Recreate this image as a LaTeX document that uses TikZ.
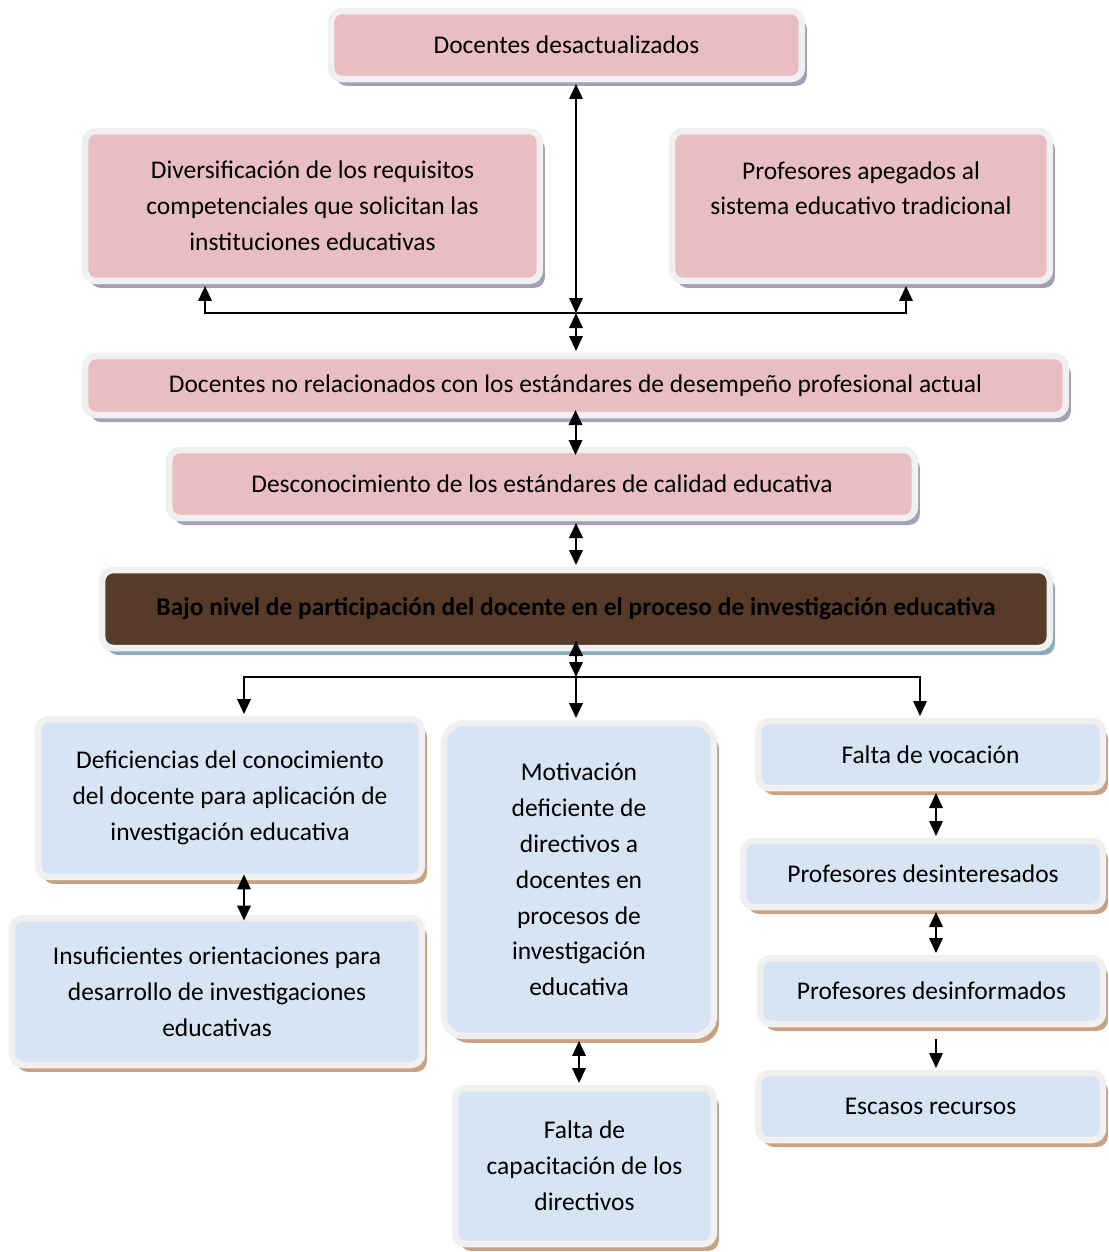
\documentclass[tikz,border=0pt]{standalone}
\usepackage{fontspec}
\setmainfont{Carlito}
\usetikzlibrary{arrows.meta,shadows}

\definecolor{rosa}{HTML}{E8BEC3}
\definecolor{celeste}{HTML}{D6E4F4}
\definecolor{cafe}{HTML}{563B29}
\definecolor{marco}{HTML}{F0F0F0}
\definecolor{sombrarosa}{HTML}{A59EB5}
\definecolor{sombraazul}{HTML}{C8A283}
\definecolor{sombracafe}{HTML}{8BAAB9}

\begin{document}
\begin{tikzpicture}[x=0.02cm,y=-0.02cm,
    caja/.style={rectangle,rounded corners=0.22cm,draw=marco,line width=0.13cm,align=center,
        outer sep=0.1cm,font=\fontsize{14.5}{20.4}\selectfont},
    rosada/.style={caja,fill=rosa,drop shadow={shadow xshift=0.1cm,shadow yshift=-0.14cm,fill=sombrarosa,opacity=1}},
    azul/.style={caja,fill=celeste,drop shadow={shadow xshift=0.1cm,shadow yshift=-0.14cm,fill=sombraazul,opacity=1}},
    flecha/.style={-{Triangle[length=0.3cm,width=0.27cm]},line width=0.04cm},
    flecha2/.style={{Triangle[length=0.3cm,width=0.27cm]}-{Triangle[length=0.3cm,width=0.27cm]},line width=0.04cm}
]
    \useasboundingbox (0,0) rectangle (1109,1252);

    \node[rosada,minimum width=9.42cm,minimum height=1.36cm] (desact) at (566.5,45) {Docentes desactualizados};
    \node[rosada,minimum width=9.1cm,minimum height=3cm] (divers) at (312.5,206)
        {Diversificación de los requisitos\\competenciales que solicitan las\\instituciones educativas};
    \node[rosada,minimum width=7.56cm,minimum height=3cm] (apegados) at (861,206)
        {Profesores apegados al\\sistema educativo tradicional\\\mbox{}};
    \node[rosada,minimum width=19.62cm,minimum height=1.18cm] (norel) at (575.5,385.5)
        {Docentes no relacionados con los estándares de desempeño profesional actual};
    \node[rosada,minimum width=14.92cm,minimum height=1.36cm] (descon) at (542,484)
        {Desconocimiento de los estándares de calidad educativa};
    \node[caja,fill=cafe,minimum width=18.96cm,minimum height=1.56cm,
        font=\fontsize{14.5}{20.4}\selectfont\bfseries,
        drop shadow={shadow xshift=0.1cm,shadow yshift=-0.14cm,fill=sombracafe,opacity=1}] (bajo) at (576,609)
        {Bajo nivel de participación del docente en el proceso de investigación educativa};

    \node[azul,minimum width=7.68cm,minimum height=3.16cm] (defic) at (230,798)
        {Deficiencias del conocimiento\\del docente para aplicación de\\investigación educativa};
    \node[azul,minimum width=8.2cm,minimum height=2.94cm] (insuf) at (217,991.5)
        {Insuficientes orientaciones para\\desarrollo de investigaciones\\educativas};
    \node[azul,rounded corners=0.4cm,minimum width=5.4cm,minimum height=6.26cm] (motiv) at (579,879.5)
        {Motivación\\deficiente de\\directivos a\\docentes en\\procesos de\\investigación\\educativa};
    \node[azul,minimum width=5.18cm,minimum height=3.12cm] (capac) at (584.5,1166)
        {Falta de\\capacitación de los\\directivos};
    \node[azul,minimum width=6.9cm,minimum height=1.34cm] (vocac) at (930.5,754.5) {Falta de vocación};
    \node[azul,minimum width=7.2cm,minimum height=1.32cm] (desint) at (923,874) {Profesores desinteresados};
    \node[azul,minimum width=6.86cm,minimum height=1.32cm] (desinf) at (931.5,991) {Profesores desinformados};
    \node[azul,minimum width=6.9cm,minimum height=1.34cm] (escasos) at (930.5,1106.5) {Escasos recursos};

    \coordinate (j1) at (576,313);
    \coordinate (j2) at (576,677);

    \draw[flecha2] (desact.south -| j1) -- (j1);
    \draw[flecha2] (j1) -- (norel.north -| j1);
    \draw[flecha] (j1) -| ([xshift=-2.15cm]divers.south);
    \draw[flecha] (j1) -| ([xshift=0.9cm]apegados.south);
    \draw[flecha2,shorten <=-0.2cm,shorten >=-0.2cm] (norel.south) -- (norel.south |- descon.north);
    \draw[flecha2] (bajo.north |- descon.south) -- (bajo.north);
    \draw[flecha2,shorten <=-0.24cm] (bajo.south) -- (j2);
    \draw[flecha] (j2) -| ([xshift=0.28cm]defic.north);
    \draw[flecha] (j2) -- (motiv.north -| j2);
    \draw[flecha] (j2) -| ([xshift=-0.21cm]vocac.north);
    \draw[flecha2,shorten <=-0.15cm,shorten >=-0.15cm] ([xshift=0.28cm]defic.south) -- ([xshift=0.28cm]defic.south |- insuf.north);
    \draw[flecha2] (motiv.south) -- (motiv.south |- capac.north);
    \draw[flecha2] ([xshift=0.11cm]vocac.south) -- ([xshift=0.11cm]vocac.south |- desint.north);
    \draw[flecha2] ([xshift=0.26cm]desint.south) -- ([xshift=0.26cm]desint.south |- desinf.north);
    \draw[flecha,shorten <=0.2cm] ([xshift=0.09cm]desinf.south) -- ([xshift=0.09cm]desinf.south |- escasos.north);
\end{tikzpicture}
\end{document}
